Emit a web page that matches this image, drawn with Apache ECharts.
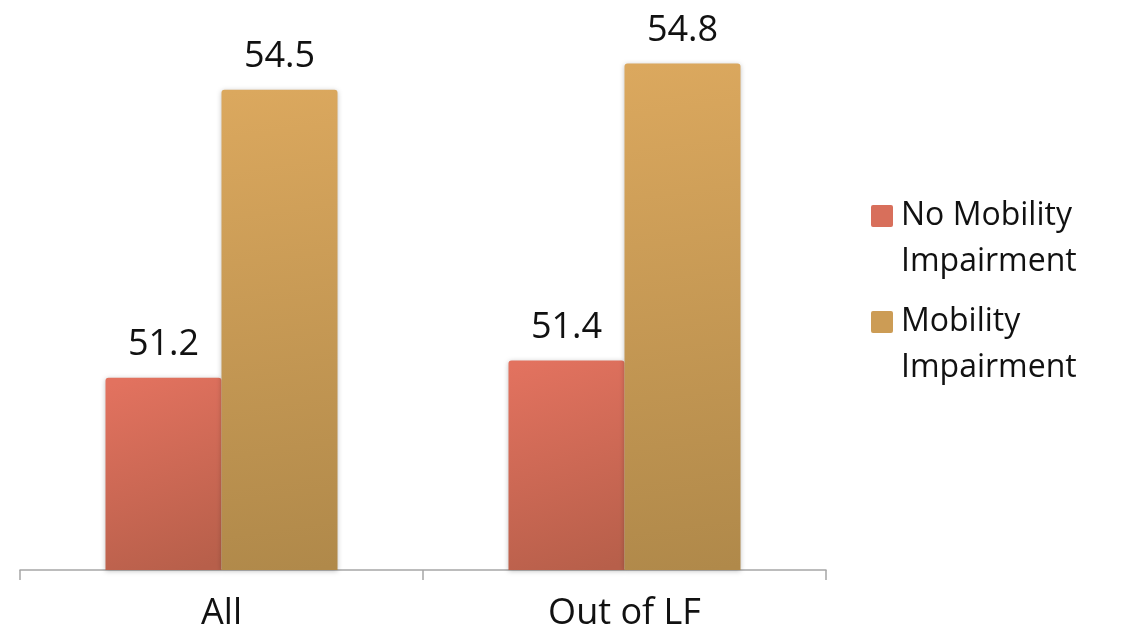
<!DOCTYPE html>
<html>
<head>
<meta charset="utf-8">
<script src="https://cdn.jsdelivr.net/npm/echarts@6/dist/echarts.min.js"></script>
<style>
  html, body { margin: 0; padding: 0; background: #ffffff; }
  #chart { width: 1130px; height: 633px; }
</style>
</head>
<body>
<div id="chart"></div>
<script>
// Categories and values
const categories = ['All', 'Out of LF'];
const noImpairment = [51.2, 51.4];
const impairment = [54.5, 54.8];
const seriesNames = ['No Mobility Impairment', 'Mobility Impairment'];
const legendLabels = ['No Mobility\nImpairment', 'Mobility\nImpairment'];

const FONT = '"Open Sans", "DejaVu Sans", sans-serif';

function grad(c1, c2) {
  return new echarts.graphic.LinearGradient(0.2, 0, 0.8, 1, [
    { offset: 0, color: c1 },
    { offset: 1, color: c2 }
  ]);
}

const redFill = grad('#e2725f', '#b75f4a');
const goldFill = grad('#dba85e', '#b0894a');

// Legend swatch: a small rounded square sitting level with the first text line.
// The zero-area segment at the bottom stretches the symbol box so the square stays top-left.
const swatch = 'path://M2,0h18a2,2 0 0 1 2,2v18a2,2 0 0 1 -2,2h-18a2,2 0 0 1 -2,-2v-18a2,2 0 0 1 2,-2z M0,68h25';

const chart = echarts.init(document.getElementById('chart'), null, { renderer: 'canvas' });

const labelCfg = {
  show: true,
  position: 'top',
  distance: 15,
  fontFamily: FONT,
  fontSize: 36,
  color: '#111111',
  formatter: p => p.value.toFixed(1)
};

chart.setOption({
  animation: false,
  grid: { left: 20, right: 304, top: 46, bottom: 63, containLabel: false },
  legend: {
    orient: 'vertical',
    left: 871,
    top: 193,
    padding: 0,
    itemWidth: 25,
    itemHeight: 68,
    itemGap: 14,
    icon: swatch,
    textStyle: { fontFamily: FONT, fontSize: 32, color: '#111111', lineHeight: 46 },
    formatter: name => legendLabels[seriesNames.indexOf(name)],
    data: [
      { name: seriesNames[0], itemStyle: { color: '#d86f5b' } },
      { name: seriesNames[1], itemStyle: { color: '#cc9c55' } }
    ]
  },
  xAxis: {
    type: 'category',
    data: categories,
    axisLine: { show: true, lineStyle: { color: '#a6a6a6', width: 1.5 } },
    axisTick: { show: true, length: 10, lineStyle: { color: '#a6a6a6', width: 1.5 } },
    axisLabel: { fontFamily: FONT, fontSize: 36, color: '#111111', margin: 26 }
  },
  yAxis: {
    type: 'value',
    min: 49,
    max: 55,
    show: false,
    splitLine: { show: false }
  },
  series: [
    {
      name: seriesNames[0],
      type: 'bar',
      data: noImpairment,
      barWidth: 116,
      barGap: '0%',
      itemStyle: {
        color: redFill,
        borderRadius: [3, 3, 0, 0],
        shadowBlur: 5,
        shadowColor: 'rgba(0,0,0,0.25)',
        shadowOffsetY: 1
      },
      label: labelCfg
    },
    {
      name: seriesNames[1],
      type: 'bar',
      data: impairment,
      barWidth: 116,
      barGap: '0%',
      itemStyle: {
        color: goldFill,
        borderRadius: [3, 3, 0, 0],
        shadowBlur: 5,
        shadowColor: 'rgba(0,0,0,0.25)',
        shadowOffsetY: 1
      },
      label: labelCfg
    }
  ]
});
</script>
</body>
</html>
